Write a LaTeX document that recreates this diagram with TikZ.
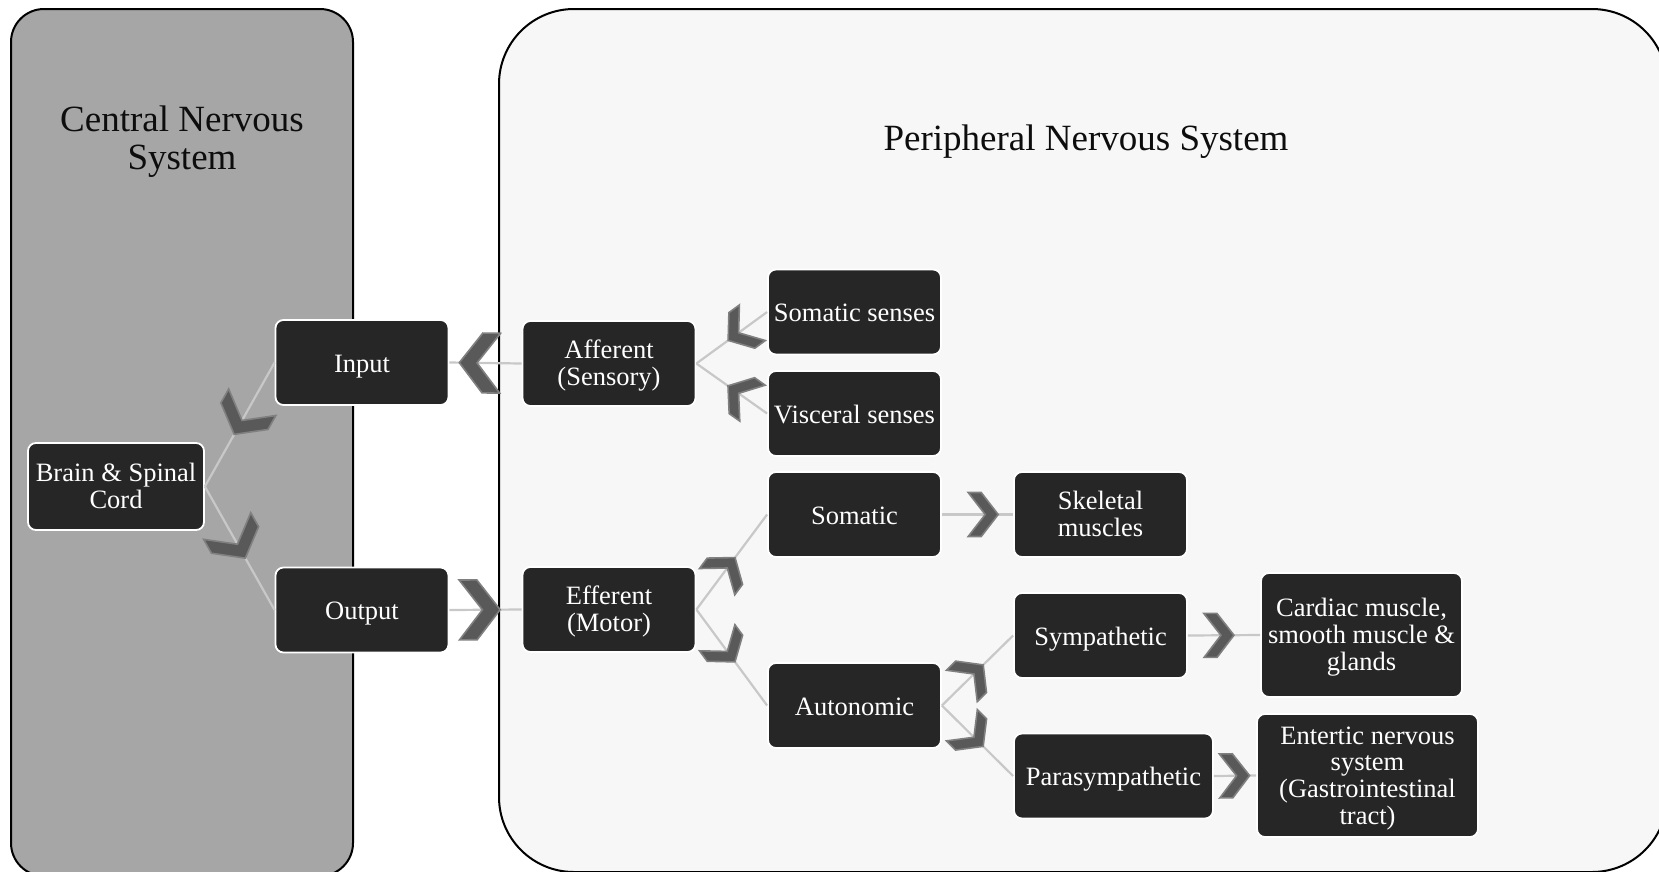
\documentclass[tikz,border=0pt]{standalone}
\usepackage{fontspec}
\setmainfont{Liberation Serif}
\definecolor{cnsfill}{HTML}{A6A6A6}
\definecolor{pnsfill}{HTML}{F7F7F7}
\definecolor{boxfill}{HTML}{262626}
\definecolor{linkgray}{HTML}{C8C8C8}
\definecolor{chevfill}{HTML}{595959}
\definecolor{chevedge}{HTML}{808080}
\newcommand\firstline{\rule{0pt}{0.9em}}
\tikzset{
  nbase/.style={draw=white, line width=1.8pt, fill=boxfill, rounded corners=8pt,
    text=white, align=center, minimum width=173pt, minimum height=85pt,
    inner sep=3pt, font=\fontsize{26.5}{26.8}\selectfont,
    execute at end node={\rule[-0.24em]{0pt}{0pt}}},
  nbox/.style={nbase, execute at begin node={\rule{0pt}{\dimexpr0.9em+2pt\relax}}},
  mbox/.style={nbase},
  panelbox/.style={draw=black, line width=2pt},
  ptitle/.style={text=black!95, align=center, font=\fontsize{37}{38}\selectfont, inner sep=0pt},
  conn/.style={draw=linkgray, line width=2.2pt},
  chevron/.pic={\draw[fill=chevfill, draw=chevedge, line width=1.6pt, line join=miter]
     (-15,-22) -- (-2,-22) -- (15,0) -- (-2,22) -- (-15,22) -- (2,0) -- cycle;},
}
% #1 scale, #2 pos, #3 from, #4 to
\newcommand\flowlink[4]{%
  \draw[conn] (#3) -- (#4);
  \path (#3) -- (#4) pic[pos=#2, sloped, allow upside down, scale=#1]{chevron};}
\begin{document}
\begin{tikzpicture}[x=1pt, y=-1pt]
\useasboundingbox (0,0) rectangle (1659,871);
\fill[white] (0,0) rectangle (1659,871);
\begin{scope}
  \clip (0,0) rectangle (1659,871);
  \draw[panelbox, fill=cnsfill, rounded corners=33pt] (11,9) rectangle (353,876);
  \draw[panelbox, fill=pnsfill, rounded corners=75pt] (499,9) rectangle (1667,872);
\end{scope}

\node[ptitle] (cnstitle) at (182,142) {Central Nervous\\System};
\node[ptitle, anchor=base] (pnstitle) at (1086,150) {Peripheral Nervous System};

\node[mbox, minimum width=176pt, minimum height=87pt] (brain) at (116,486.5) {\firstline Brain \& Spinal\\Cord};
\node[nbox] (input) at (362,362.5) {Input};
\node[nbox] (output) at (362,610) {Output};
\node[mbox] (aff) at (609,363.5) {\firstline Afferent\\(Sensory)};
\node[mbox] (eff) at (609,609.5) {\firstline Efferent\\(Motor)};
\node[nbox] (somsen) at (854.5,312) {Somatic senses};
\node[nbox] (vissen) at (854.5,413.5) {Visceral senses};
\node[nbox] (somatic) at (854.5,514.5) {Somatic};
\node[nbox] (auto) at (854.5,705.5) {Autonomic};
\node[mbox] (skel) at (1100.5,514.5) {\firstline Skeletal\\muscles};
\node[nbox] (symp) at (1100.5,635.5) {Sympathetic};
\node[nbox, minimum width=199pt] (para) at (1113.5,776) {Parasympathetic};
\node[mbox, minimum width=201pt, minimum height=124pt] (card) at (1361.5,635) {\firstline Cardiac muscle,\\smooth muscle \&\\glands};
\node[mbox, minimum width=221pt, minimum height=123pt] (enter) at (1367.5,775.5) {\firstline Entertic nervous\\system\\(Gastrointestinal\\tract)};

\flowlink{1.23}{0.45}{input.west}{brain.east}
\flowlink{1.23}{0.45}{brain.east}{output.west}
\flowlink{1.36}{0.58}{aff.west}{input.east}
\flowlink{1.36}{0.42}{output.east}{eff.west}
\flowlink{1}{0.38}{somsen.west}{aff.east}
\flowlink{1}{0.38}{vissen.west}{aff.east}
\flowlink{1}{0.42}{eff.east}{somatic.west}
\flowlink{1}{0.42}{eff.east}{auto.west}
\flowlink{1}{0.58}{somatic.east}{skel.west}
\flowlink{1}{0.43}{auto.east}{symp.west}
\flowlink{1}{0.43}{auto.east}{para.west}
\flowlink{1}{0.43}{symp.east}{card.west}
\flowlink{1}{0.49}{para.east}{enter.west}
\end{tikzpicture}
\end{document}
